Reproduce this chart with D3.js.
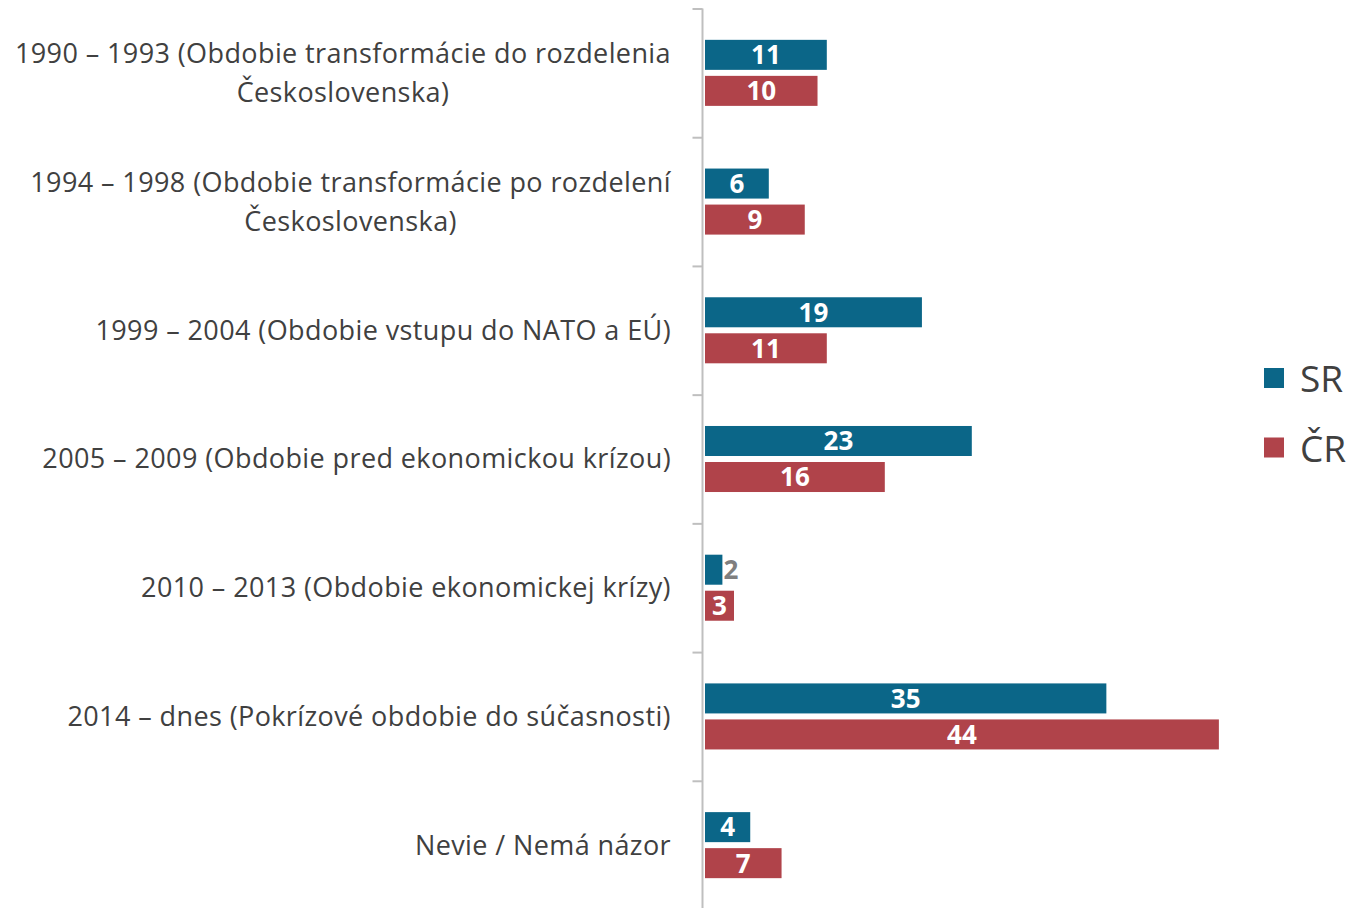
<!DOCTYPE html>
<html>
<head>
<meta charset="utf-8">
<script src="https://cdn.jsdelivr.net/npm/d3@7"></script>
<style>
  body { margin: 0; background: #fff; }
  svg { display: block; }
</style>
</head>
<body>
<svg></svg>
<script>
const width = 1354, height = 908;

const categories = [
    ["1990 – 1993 (Obdobie transformácie do rozdelenia", "Československa)"],
    ["1994 – 1998 (Obdobie transformácie po rozdelení", "Československa)"],
    ["1999 – 2004 (Obdobie vstupu do NATO a EÚ)"],
    ["2005 – 2009 (Obdobie pred ekonomickou krízou)"],
    ["2010 – 2013 (Obdobie ekonomickej krízy)"],
    ["2014 – dnes (Pokrízové obdobie do súčasnosti)"],
    ["Nevie / Nemá názor"]
];
const seriesNames = ["SR", "ČR"];
const srValues = [10.5, 5.5, 18.7, 23.0, 1.5, 34.6, 3.9];
const crValues = [9.7, 8.6, 10.5, 15.5, 2.5, 44.3, 6.6];
const colors = ["#0b6688", "#b0434a"];

const axisX = 702.5;
const labelFont = "'Open Sans', Lato, sans-serif";

const svg = d3.select("svg")
    .attr("width", width)
    .attr("height", height);

const y = d3.scaleBand()
    .domain(d3.range(categories.length))
    .range([8.5, 909.5])
    .paddingInner(0)
    .paddingOuter(0);

const ySub = d3.scaleBand()
    .domain(seriesNames)
    .range([0, y.bandwidth()])
    .paddingInner(1 / 6)
    .paddingOuter(0.87);

const x = d3.scaleLinear().domain([0, 44]).range([705, 705 + 44 * 11.6]);

// axis line with ticks on the left
const yAxis = d3.axisLeft(d3.scaleLinear().domain([0, categories.length]).range([8.5, 909.5]))
    .ticks(categories.length)
    .tickSize(10)
    .tickFormat("");

svg.append("g")
    .attr("transform", `translate(${axisX},0)`)
    .call(yAxis)
    .call(g => g.selectAll("line, path").attr("stroke", "#bfbfbf").attr("stroke-width", 2))
    .call(g => g.select(".domain").attr("d", "M0,8.5V909.5"));

// category labels: block right-aligned, lines centred within the block
const labels = svg.append("g");
categories.forEach((lines, i) => {
    const cy = y(i) + y.bandwidth() / 2;
    const lh = 39;
    const t = labels.append("text")
        .attr("font-family", labelFont)
        .attr("font-size", 27)
        .attr("letter-spacing", 0.4)
        .attr("fill", "#404040");
    const spans = lines.map((line, j) => t.append("tspan")
        .attr("y", cy + (j - (lines.length - 1) / 2) * lh)
        .attr("dy", "0.35em")
        .text(line));
    const maxW = d3.max(spans, s => s.node().getComputedTextLength());
    spans.forEach(s => s.attr("x", 671 - maxW / 2).attr("text-anchor", "middle"));
});

const rows = categories.map((c, i) => ({ i, vals: [srValues[i], crValues[i]] }));

const groups = svg.selectAll(".grp")
    .data(rows)
    .enter().append("g")
    .attr("class", "grp")
    .attr("transform", d => `translate(0,${y(d.i)})`);

groups.each(function (d) {
    const g = d3.select(this);
    d.vals.forEach((v, k) => {
        const by = ySub(seriesNames[k]);
        const bw = x(v) - x(0);
        g.append("rect")
            .attr("x", x(0))
            .attr("y", by)
            .attr("width", bw)
            .attr("height", ySub.bandwidth())
            .attr("fill", colors[k]);
        const small = bw < 20 && k === 0;
        g.append("text")
            .attr("x", small ? x(v) + 1 : (x(0) + x(v)) / 2)
            .attr("y", by + ySub.bandwidth() / 2)
            .attr("dy", "0.36em")
            .attr("text-anchor", small ? "start" : "middle")
            .attr("font-family", labelFont)
            .attr("font-weight", "bold")
            .attr("font-size", 26)
            .attr("fill", small ? "#7f7f7f" : "#ffffff")
            .text(Math.round(v));
    });
});

// legend
const legend = svg.append("g");
seriesNames.forEach((name, k) => {
    const ly = 378 + k * 69.5;
    legend.append("rect")
        .attr("x", 1264)
        .attr("y", ly - 10)
        .attr("width", 20)
        .attr("height", 20)
        .attr("fill", colors[k]);
    legend.append("text")
        .attr("x", 1300)
        .attr("y", ly + 1)
        .attr("dy", "0.36em")
        .attr("font-family", labelFont)
        .attr("font-size", 37)
        .attr("fill", "#404040")
        .text(name);
});
</script>
</body>
</html>
